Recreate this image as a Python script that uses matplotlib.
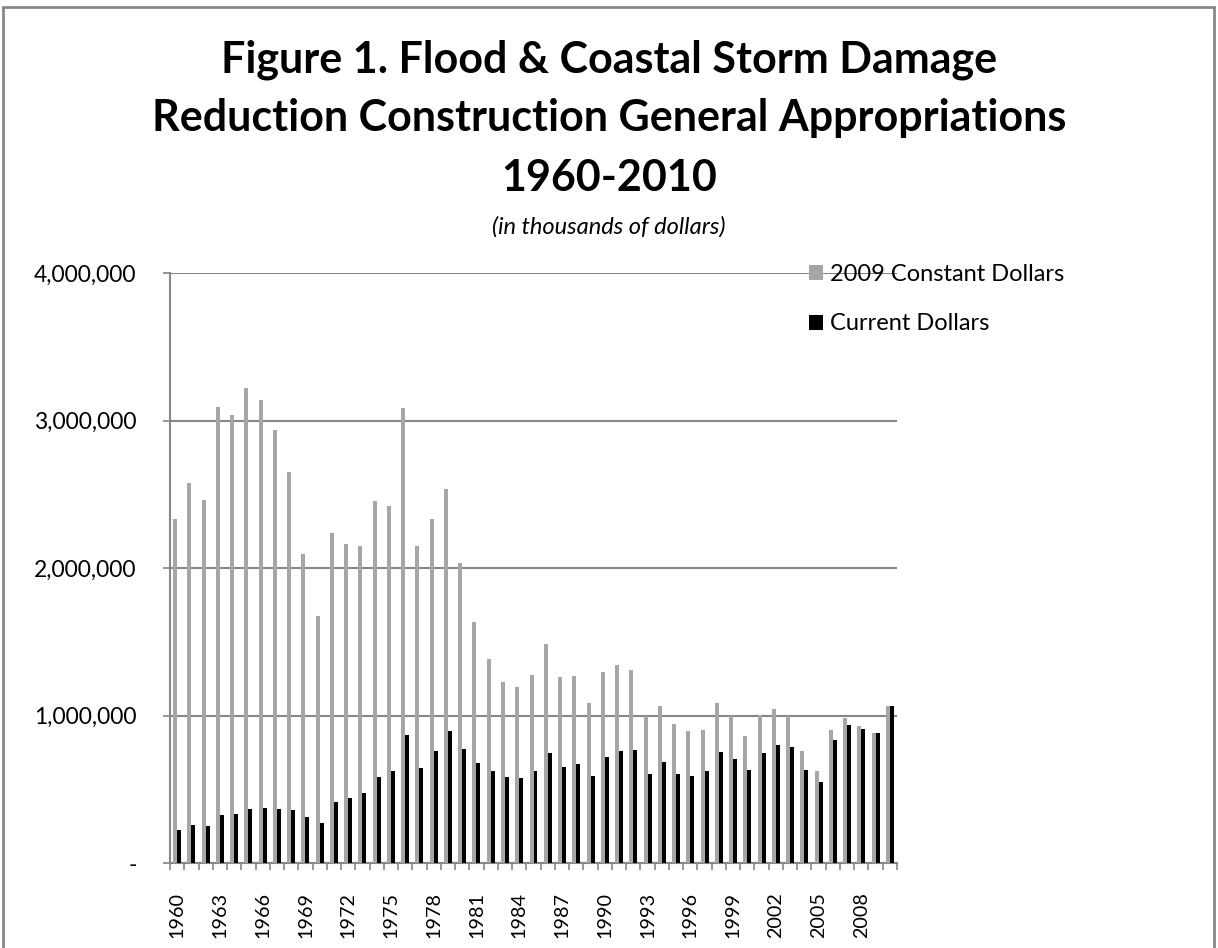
import numpy as np
import matplotlib
matplotlib.use('Agg')
import matplotlib.pyplot as plt
from matplotlib.patches import Rectangle
from matplotlib.ticker import FuncFormatter

# Appropriations by fiscal year, in thousands of dollars
years = list(range(1960, 2011))

constant_2009 = [
    2334000, 2576000, 2463000, 3092000, 3039000, 3220000, 3141000, 2935000, 2653000, 2095000,
    1677000, 2239000, 2165000, 2147000, 2456000, 2418000, 3085000, 2151000, 2334000, 2538000,
    2034000, 1634000, 1383000, 1229000, 1193000, 1277000, 1485000, 1263000, 1268000, 1087000,
    1297000, 1344000, 1311000, 994000, 1064000, 942000, 892000, 904000, 1087000, 999000,
    863000, 1001000, 1046000, 999000, 759000, 626000, 904000, 985000, 931000, 881000,
    1062000,
]

current = [
    226000, 255000, 253000, 327000, 334000, 366000, 375000, 368000, 359000, 312000,
    271000, 413000, 443000, 477000, 581000, 626000, 868000, 646000, 759000, 892000,
    770000, 675000, 621000, 585000, 578000, 626000, 748000, 653000, 671000, 587000,
    721000, 761000, 766000, 605000, 685000, 603000, 590000, 621000, 755000, 707000,
    630000, 746000, 802000, 784000, 633000, 547000, 836000, 938000, 908000, 883000,
    1064000,
]

series_labels = ["2009 Constant Dollars", "Current Dollars"]
yticks = [0, 1000000, 2000000, 3000000, 4000000]

GRID = "#878787"
GRAY_BAR = "#a6a6a6"
W, H = 1218, 948

plt.rcParams['font.family'] = ['Lato', 'DejaVu Sans']

fig = plt.figure(figsize=(W / 100, H / 100), dpi=100)
ax = fig.add_axes([170 / W, 85 / H, 727 / W, 590 / H])

x = np.arange(len(years))
w = 0.28
ax.bar(x - w / 2, constant_2009, width=w, color=GRAY_BAR, label=series_labels[0], zorder=3)
ax.bar(x + w / 2, current, width=w, color="black", label=series_labels[1], zorder=3)

ax.set_xlim(-0.5, len(years) - 0.5)
ax.set_ylim(0, 4000000)

# y axis: comma thousands, dash for zero
ax.set_yticks(yticks)
ax.yaxis.set_major_formatter(FuncFormatter(lambda v, p: "-" if v == 0 else f"{v:,.0f}"))
ax.yaxis.grid(True, color=GRID, linewidth=1.5, zorder=0)
ax.tick_params(axis='y', length=5, width=1.2, color=GRID, labelsize=16.5, pad=19)

# x axis: tick marks between categories, labels every third year
ax.set_xticks(x[::3])
ax.set_xticklabels([str(y) for y in years[::3]], rotation=90)
ax.set_xticks(np.arange(-0.5, len(years)), minor=True)
ax.tick_params(axis='x', which='major', length=0, labelsize=14.2, pad=21)
ax.tick_params(axis='x', which='minor', length=5, width=1.2, color=GRID)

for side in ("top", "right"):
    ax.spines[side].set_visible(False)
for side in ("left", "bottom"):
    ax.spines[side].set_color(GRID)
    ax.spines[side].set_linewidth(1.5)

leg = ax.legend(loc="upper left", bbox_to_anchor=(809 / W, 1 - 264 / H),
                bbox_transform=fig.transFigure, frameon=False, fontsize=17,
                handlelength=0.6, handleheight=0.6, handletextpad=0.3,
                labelspacing=1.2, borderpad=0, borderaxespad=0)

title_lines = ["Figure 1. Flood & Coastal Storm Damage",
               "Reduction Construction General Appropriations",
               "1960-2010"]
for line, base in zip(title_lines, [73, 131, 191]):
    fig.text(0.5, 1 - base / H, line, ha="center", va="baseline",
             fontsize=31, fontweight="bold")
fig.text(0.5, 1 - 234 / H, "(in thousands of dollars)",
         ha="center", va="baseline", fontsize=17, style="italic")

# outer chart frame
fig.patches.append(Rectangle((3 / W, -0.1), 1211 / W, 1.1 - 7 / H,
                             transform=fig.transFigure, fill=False,
                             edgecolor=GRID, linewidth=2))

fig.savefig("out.png", dpi=100)
